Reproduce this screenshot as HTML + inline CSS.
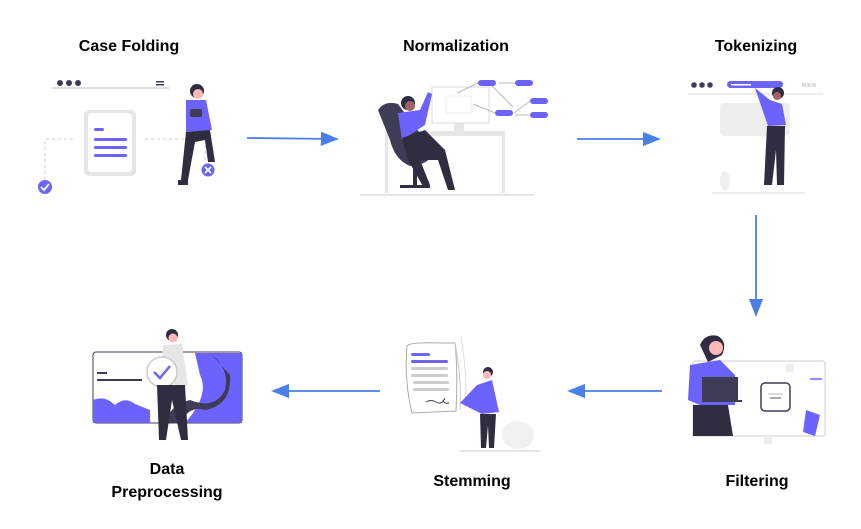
<!DOCTYPE html>
<html><head><meta charset="utf-8"><style>
body{margin:0;background:#fff;}
svg text{font-family:"Comic Sans MS","Liberation Sans",sans-serif;font-weight:bold;font-size:16px;fill:#000;}
</style></head><body>
<svg width="861" height="524" viewBox="0 0 861 524" xmlns="http://www.w3.org/2000/svg">
<defs><marker id="a" markerWidth="10" markerHeight="10" refX="9" refY="5" orient="auto"><path d="M0,1 L10,5 L0,9 z" fill="#4a7fe8"/></marker></defs>
<!-- labels -->
<text x="129" y="51" text-anchor="middle">Case Folding</text>
<text x="456" y="51" text-anchor="middle">Normalization</text>
<text x="756" y="51" text-anchor="middle">Tokenizing</text>
<text x="167" y="474" text-anchor="middle">Data</text>
<text x="167" y="497" text-anchor="middle">Preprocessing</text>
<text x="472" y="486" text-anchor="middle">Stemming</text>
<text x="757" y="486" text-anchor="middle">Filtering</text>
<!-- arrows -->
<g stroke="#4a7fe8" stroke-width="1.8" fill="none" marker-end="url(#a)">
<line x1="247" y1="138" x2="337" y2="139"/>
<line x1="577" y1="139" x2="659" y2="139"/>
<line x1="756" y1="215" x2="756" y2="315"/>
<line x1="662" y1="391" x2="569" y2="391"/>
<line x1="380" y1="391" x2="273" y2="391"/>
</g>
<!-- Case folding -->
<g>
<circle cx="60" cy="83" r="3" fill="#3f3d56"/><circle cx="69" cy="83" r="3" fill="#3f3d56"/><circle cx="78" cy="83" r="3" fill="#3f3d56"/>
<rect x="156" y="81" width="8" height="1.5" fill="#3f3d56"/><rect x="156" y="84" width="8" height="1.5" fill="#3f3d56"/>
<line x1="52" y1="88" x2="169" y2="88" stroke="#ccc" stroke-width="1.2"/>
<rect x="84" y="110" width="52" height="66" rx="5" fill="#e6e6e6"/><rect x="88" y="113" width="44" height="59" rx="4" fill="#fff"/>
<rect x="94" y="128" width="10" height="3" rx="1.5" fill="#6c63ff"/>
<rect x="94" y="138" width="33" height="3" rx="1.5" fill="#6c63ff"/><rect x="94" y="146" width="33" height="3" rx="1.5" fill="#6c63ff"/><rect x="94" y="154" width="33" height="3" rx="1.5" fill="#6c63ff"/>
<path d="M45,180 V139 H76 M145,139 H205 V165" stroke="#ccc" stroke-dasharray="3,3" fill="none"/>
<circle cx="45" cy="187" r="7" fill="#6c63ff"/><path d="M41,187 l3,3 l5,-6" stroke="#fff" stroke-width="1.8" fill="none"/>
<circle cx="208" cy="170" r="6.5" fill="#6c63ff"/><path d="M205,167 l6,6 M211,167 l-6,6" stroke="#fff" stroke-width="1.6"/>
<circle cx="197" cy="91" r="7" fill="#2f2e41"/><circle cx="198" cy="94" r="5" fill="#ffb8b8"/>
<path d="M186,100 L206,100 L212,130 L186,132 Z" fill="#6c63ff"/>
<rect x="190" y="109" width="12" height="8" rx="2" fill="#3f3d56"/>
<path d="M186,132 L210,130 L215,162 L208,162 L205,140 L195,142 L188,180 L181,180 Z" fill="#2f2e41"/>
<rect x="178" y="180" width="10" height="5" fill="#2f2e41"/>
</g>
<!-- Normalization -->
<g>
<rect x="432" y="87" width="57" height="36" fill="#fff" stroke="#e6e6e6" stroke-width="1.5"/>
<rect x="446" y="96" width="25" height="17" fill="#fff" stroke="#eee"/>
<rect x="454" y="123" width="10" height="9" fill="#e6e6e6"/>
<rect x="385" y="131" width="120" height="5" fill="#e6e6e6"/>
<rect x="385" y="136" width="3" height="57" fill="#e6e6e6"/><rect x="502" y="136" width="3" height="57" fill="#e6e6e6"/>
<line x1="360" y1="195" x2="535" y2="195" stroke="#e6e6e6" stroke-width="2"/>
<g stroke="#bbb" stroke-width="1"><line x1="457" y1="93" x2="478" y2="83"/><line x1="490" y1="84" x2="513" y2="107"/><line x1="473" y1="104" x2="495" y2="113"/><line x1="514" y1="113" x2="530" y2="101"/><line x1="499" y1="83" x2="515" y2="83"/><line x1="515" y1="115" x2="530" y2="115"/></g>
<rect x="478" y="80" width="18" height="6" rx="3" fill="#6c63ff"/><rect x="515" y="80" width="18" height="6" rx="3" fill="#6c63ff"/>
<rect x="495" y="110" width="18" height="6" rx="3" fill="#6c63ff"/><rect x="530" y="98" width="18" height="6" rx="3" fill="#6c63ff"/><rect x="530" y="112" width="18" height="6" rx="3" fill="#6c63ff"/>
<path d="M378,110 Q385,100 398,104 L425,140 Q438,160 420,164 L410,166 Q395,160 390,140 Z" fill="#3f3d56"/>
<rect x="413" y="160" width="4" height="25" fill="#2f2e41"/><rect x="400" y="185" width="30" height="3" fill="#2f2e41"/>
<circle cx="408" cy="103" r="7" fill="#2f2e41"/><circle cx="410" cy="106" r="5" fill="#a0616a"/>
<path d="M398,113 L420,110 L428,92 L432,94 L425,125 L402,140 Z" fill="#6c63ff"/>
<path d="M402,138 L425,130 L445,150 L455,190 L448,190 L438,160 L420,160 L430,185 L424,188 L408,160 Z" fill="#2f2e41"/>
</g>
<!-- Tokenizing -->
<g>
<circle cx="694" cy="85" r="2.8" fill="#3f3d56"/><circle cx="702" cy="85" r="2.8" fill="#3f3d56"/><circle cx="710" cy="85" r="2.8" fill="#3f3d56"/>
<rect x="727" y="81" width="56" height="7" rx="3.5" fill="#6c63ff"/><rect x="731" y="84" width="20" height="1.5" fill="#fff"/>
<rect x="802" y="83" width="4" height="4" fill="#ddd"/><rect x="807" y="83" width="4" height="4" fill="#ddd"/><rect x="812" y="83" width="4" height="4" fill="#ddd"/>
<line x1="688" y1="94" x2="823" y2="94" stroke="#ddd"/>
<rect x="720" y="103" width="70" height="33" rx="4" fill="#eeeeee"/>
<circle cx="778" cy="93" r="6" fill="#2f2e41"/><circle cx="777" cy="96" r="4" fill="#a0616a"/>
<path d="M755,88 L770,100 L782,104 L786,125 L768,126 Z" fill="#6c63ff"/>
<path d="M767,126 L785,126 L784,185 L777,185 L776,150 L772,185 L764,185 Z" fill="#2f2e41"/>
<line x1="712" y1="193" x2="805" y2="193" stroke="#e6e6e6" stroke-width="1.5"/>
<ellipse cx="725" cy="181" rx="5" ry="10" fill="#f0f0f0"/>
</g>
<!-- Filtering -->
<g>
<rect x="693" y="361" width="132" height="75" rx="2" fill="#fff" stroke="#ddd" stroke-width="1.5"/>
<rect x="761" y="383" width="29" height="28" rx="4" fill="#fff" stroke="#3f3d56" stroke-width="1.5"/>
<line x1="768" y1="394" x2="783" y2="394" stroke="#bbb"/><line x1="770" y1="398" x2="781" y2="398" stroke="#555"/>
<rect x="786" y="364" width="8" height="8" fill="#eee"/><rect x="764" y="436" width="8" height="8" fill="#eee"/>
<line x1="810" y1="379" x2="822" y2="379" stroke="#6c63ff" stroke-width="1.5"/>
<path d="M806,410 L820,415 L815,436 L803,432 Z" fill="#6c63ff"/>
<path d="M700,345 Q705,333 718,336 Q728,342 722,355 L708,362 Z" fill="#2f2e41"/>
<circle cx="716" cy="348" r="7" fill="#ffb8b8"/>
<path d="M690,365 L720,360 L735,375 L735,405 L700,405 L688,400 Z" fill="#6c63ff"/>
<rect x="702" y="377" width="36" height="24" fill="#3f3d56"/><rect x="702" y="400" width="40" height="2" fill="#3f3d56"/>
<path d="M693,405 L728,405 L733,436 L693,436 Z" fill="#2f2e41"/>
</g>
<!-- Stemming -->
<g>
<path d="M407,346 Q410,342 440,343 L455,343 Q458,370 456,411 L412,413 Q404,380 407,346 Z" fill="#fff" stroke="#aaa" stroke-width="1"/>
<path d="M455,343 Q462,380 460,410" stroke="#ccc" fill="none"/><path d="M461,336 Q468,380 465,408" stroke="#ddd" fill="none"/>
<rect x="411" y="353" width="19" height="3" rx="1.5" fill="#6c63ff"/><rect x="411" y="360" width="37" height="3" rx="1.5" fill="#6c63ff"/>
<rect x="411" y="367" width="37" height="3" rx="1.5" fill="#ccc"/><rect x="411" y="374" width="37" height="3" rx="1.5" fill="#ccc"/><rect x="413" y="381" width="36" height="3" rx="1.5" fill="#ccc"/><rect x="413" y="388" width="36" height="3" rx="1.5" fill="#ccc"/>
<path d="M426,402 q5,-3 10,0 q5,3 8,-2 q2,-3 -1,1 q2,3 6,2" stroke="#3f3d56" fill="none"/>
<ellipse cx="518" cy="435" rx="16" ry="14" fill="#f0f0f0"/>
<line x1="460" y1="451" x2="540" y2="451" stroke="#ddd" stroke-width="1.5"/>
<circle cx="488" cy="372" r="5" fill="#2f2e41"/><circle cx="487" cy="375" r="4" fill="#ffb8b8"/>
<path d="M460,403 L477,385 L492,380 L499,412 L482,414 Z" fill="#6c63ff"/>
<path d="M480,414 L496,414 L494,448 L489,448 L488,425 L486,448 L481,448 Z" fill="#2f2e41"/>
</g>
<!-- Data preprocessing -->
<g>
<rect x="93" y="352" width="149" height="71" rx="3" fill="#fff" stroke="#3f3d56" stroke-width="1"/>
<path d="M93,400 Q105,395 115,405 Q125,396 135,404 L150,410 L150,423 L93,423 Z" fill="#6c63ff"/>
<path d="M195,353 L242,353 L242,423 L185,423 Q210,395 200,375 Z" fill="#6c63ff"/>
<path d="M212,355 Q230,370 225,390 Q215,410 190,400 Q170,405 165,423 L180,423 Q190,405 205,410 Q232,405 230,375 Z" fill="#3f3d56"/>
<rect x="97" y="372" width="10" height="2" fill="#3f3d56"/><rect x="97" y="379" width="45" height="2" fill="#3f3d56"/>
<circle cx="172" cy="335" r="6" fill="#2f2e41"/><circle cx="173" cy="338" r="4.5" fill="#ffb8b8"/>
<path d="M163,345 L182,344 L188,385 L160,385 Z" fill="#e6e6e6"/>
<circle cx="162" cy="372" r="15" fill="#fff" stroke="#ccc" stroke-width="1.5"/>
<path d="M154,372 l6,6 l10,-12" stroke="#6c63ff" stroke-width="2.5" fill="none"/>
<path d="M157,385 L185,385 L188,440 L181,440 L172,400 L166,440 L159,440 Z" fill="#2f2e41"/>
</g>
</svg>
</body></html>
